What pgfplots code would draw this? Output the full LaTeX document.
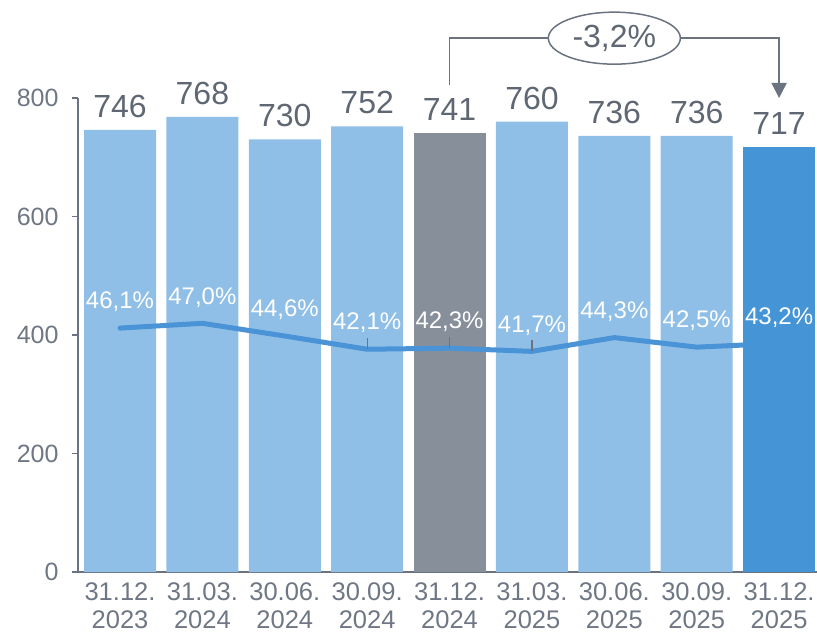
\documentclass[border=0pt]{standalone}
\usepackage{pgfplots}
\pgfplotsset{compat=1.18}
\usepackage{pgfplotstable}
\usepackage{fontspec}
\setmainfont{Liberation Sans}
\usetikzlibrary{shapes.geometric,arrows.meta}
\definecolor{lb}{HTML}{8FBFE6}
\definecolor{gb}{HTML}{878F9B}
\definecolor{db}{HTML}{4494D6}
\definecolor{linecol}{HTML}{4A93D6}
\definecolor{axisgray}{HTML}{6B7380}
\definecolor{tickgray}{HTML}{6F7784}
\definecolor{labgray}{HTML}{5F6773}
\pgfplotstableread{
x v
0 746
1 768
2 730
3 752
5 760
6 736
7 736
}\lightbars
\pgfplotstableread{
x v
4 741
}\graybar
\pgfplotstableread{
x v
8 717
}\lastbar
\pgfplotstableread{
x p e
0 46.1 0
1 47.0 0
2 44.6 0
3 42.1 19
4 42.3 19
5 41.7 19
6 44.3 0
7 42.5 0
8 43.2 0
}\ratio
\begin{document}
\begin{tikzpicture}
\path[use as bounding box] (-78pt,-63pt) rectangle (739pt,572pt);
\begin{axis}[
  scale only axis, width=739pt, height=474pt,
  xmin=-0.51, xmax=8.46, ymin=0, ymax=800, clip=false,
  axis x line*=bottom, axis y line*=left,
  axis line style={draw=axisgray, line width=1.6pt},
  ytick={0,200,...,800}, xtick={0,...,8},
  xticklabels={{31.12.\\2023},{31.03.\\2024},{30.06.\\2024},{30.09.\\2024},{31.12.\\2024},{31.03.\\2025},{30.06.\\2025},{30.09.\\2025},{31.12.\\2025}},
  xticklabel style={align=center, font=\fontsize{25.5}{28.5}\selectfont, inner sep=0pt, yshift=-4pt},
  yticklabel style={font=\fontsize{25}{29}\selectfont, xshift=-10pt},
  x tick style={draw=none},
  tick align=outside, major tick length=6pt,
  y tick style={draw=axisgray, line width=1.6pt},
  tick label style={text=tickgray},
  /pgf/number format/assume math mode=true,
  barlab/.style={nodes near coords, nodes near coords style={font=\fontsize{32}{32}\selectfont, text=labgray, inner sep=0pt, anchor=south, yshift=12pt}},
]
\addplot[ybar, bar width=72pt, bar shift=0pt, fill=lb, draw=none, barlab] table[x=x,y=v]{\lightbars};
\addplot[ybar, bar width=72pt, bar shift=0pt, fill=gb, draw=none, barlab] table[x=x,y=v]{\graybar};
\addplot[line width=5pt, linecol, line cap=round, line join=round, mark=none,
  error bars/.cd, y dir=plus, y explicit, error mark=none,
  error bar style={draw=axisgray, line width=1.2pt, line cap=butt}]
  table[x=x, y expr=\thisrow{p}*8.93, y error=e]{\ratio};
\addplot[ybar, bar width=72pt, bar shift=0pt, fill=db, draw=none, barlab] table[x=x,y=v]{\lastbar};
\addplot[draw=none, mark=none, point meta=\thisrow{p},
  nodes near coords={\pgfmathprintnumber[fixed,fixed zerofill,precision=1,use comma,assume math mode=true]{\pgfplotspointmeta}\%},
  nodes near coords style={text=white, font=\fontsize{24}{24}\selectfont, anchor=south, inner sep=0pt, yshift=16pt}]
  table[x=x, y expr=\thisrow{p}*8.93]{\ratio};
\draw[axisgray, line width=1.8pt, -{Triangle[width=15pt,length=15pt]}] (axis cs:4,822) -- (axis cs:4,901) -- (axis cs:8,901) -- (axis cs:8,800);
\node[draw=axisgray, line width=1.5pt, ellipse, fill=white, minimum width=132pt, minimum height=52pt, inner sep=0pt, text=labgray, font=\fontsize{32}{32}\selectfont] at (axis cs:6,901) {-3,2\%};
\end{axis}
\end{tikzpicture}
\end{document}
